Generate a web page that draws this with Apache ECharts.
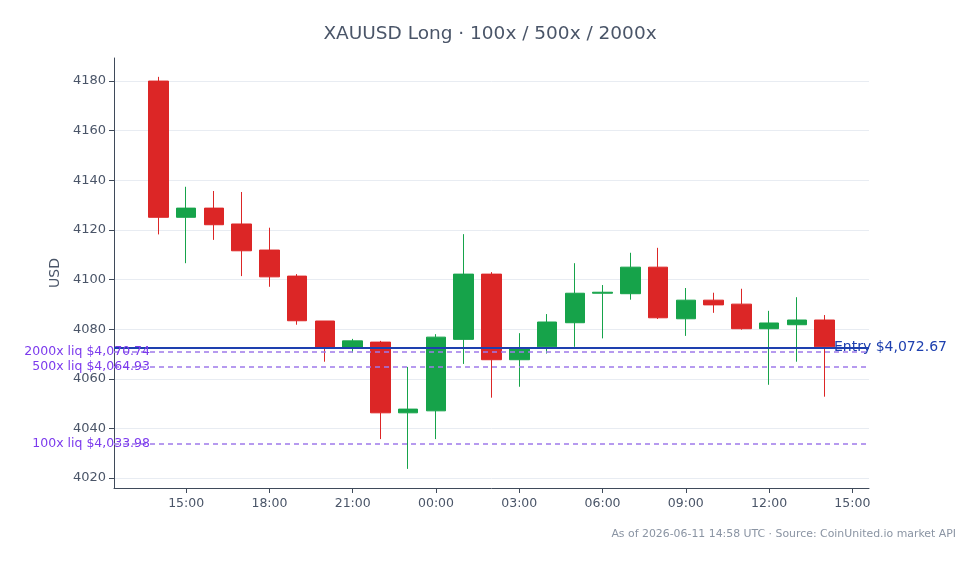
<!DOCTYPE html>
<html>
<head>
<meta charset="utf-8">
<script src="https://cdn.jsdelivr.net/npm/echarts@6/dist/echarts.min.js"></script>
<style>
  html, body { margin: 0; padding: 0; background: #fff; }
  #chart { width: 980px; height: 564px; }
</style>
</head>
<body>
<div id="chart"></div>
<script>
// hourly candles; x is hours since 2026-06-10 00:00 UTC (14 = 14:00, 38 = next day 14:00)
const hours  = [14, 15, 16, 17, 18, 19, 20, 21, 22, 23, 24, 25, 26, 27, 28, 29, 30, 31, 32, 33, 34, 35, 36, 37, 38];
const opens  = [4180.0, 4125.1, 4128.8, 4122.4, 4111.9, 4101.4, 4083.3, 4072.7, 4074.8, 4046.3, 4047.1, 4075.9, 4102.2, 4067.7, 4072.9, 4082.6, 4094.5, 4094.3, 4105.0, 4084.2, 4091.7, 4090.1, 4080.2, 4081.8, 4083.7];
const closes = [4125.1, 4128.8, 4122.1, 4111.6, 4101.1, 4083.4, 4072.7, 4075.3, 4046.3, 4047.8, 4076.8, 4102.2, 4067.7, 4072.3, 4082.9, 4094.5, 4094.9, 4105.0, 4084.6, 4091.7, 4089.8, 4080.2, 4082.5, 4083.7, 4072.9];
const lows   = [4118.2, 4106.6, 4116.0, 4101.4, 4097.1, 4081.8, 4066.9, 4070.6, 4035.7, 4023.7, 4035.7, 4066.0, 4052.4, 4056.8, 4070.2, 4072.9, 4076.3, 4091.9, 4084.1, 4077.3, 4086.6, 4079.8, 4057.6, 4066.9, 4052.8];
const highs  = [4181.7, 4137.4, 4135.7, 4135.3, 4120.9, 4102.2, 4083.3, 4076.1, 4075.3, 4064.8, 4078.0, 4118.3, 4103.0, 4078.4, 4086.1, 4106.6, 4097.8, 4110.8, 4112.8, 4096.6, 4094.7, 4096.3, 4087.4, 4092.9, 4085.7];

const entryPrice = 4072.67;
const liqNames  = ["2000x liq", "500x liq", "100x liq"];
const liqPrices = [4070.74, 4064.93, 4033.98];

const xMin = 12.4;
const xMax = 39.6;
const yMin = 4016;
const yMax = 4189.3;

const fmtUsd = (v) => "$" + v.toLocaleString("en-US", { minimumFractionDigits: 2, maximumFractionDigits: 2 });
const pad2 = (n) => String(n).padStart(2, "0");

const candles = hours.map((h, i) => [h, opens[i], closes[i], lows[i], highs[i]]);

const chart = echarts.init(document.getElementById("chart"));
chart.setOption({
  animation: false,
  backgroundColor: "#ffffff",
  title: {
    text: "XAUUSD Long · 100x / 500x / 2000x",
    left: "center",
    top: 20,
    textStyle: { color: "#4a5568", fontSize: 18.5, fontWeight: "normal", fontFamily: "DejaVu Sans" },
  },
  graphic: [{
    type: "text",
    right: 24,
    top: 529,
    style: {
      text: "As of 2026-06-11 14:58 UTC · Source: CoinUnited.io market API",
      fill: "#8a94a3",
      font: "10.9px DejaVu Sans",
    },
  }],
  grid: { left: 114, right: 111, top: 58, bottom: 76 },
  xAxis: {
    type: "value",
    min: xMin,
    max: xMax,
    splitNumber: 9,
    axisLine: { lineStyle: { color: "#3f4a5a", width: 1 } },
    axisTick: { show: true, length: 5, lineStyle: { color: "#3f4a5a" } },
    axisLabel: {
      color: "#4a5568",
      fontSize: 12.5,
      fontFamily: "DejaVu Sans",
      margin: 9,
      showMinLabel: false,
      showMaxLabel: false,
      formatter: (v) => pad2(Math.round(v) % 24) + ":00",
    },
    splitLine: { show: false },
  },
  yAxis: {
    type: "value",
    min: yMin,
    max: yMax,
    splitNumber: 9,
    name: "USD",
    nameLocation: "middle",
    nameGap: 48,
    nameTextStyle: { color: "#4a5568", fontSize: 14, fontFamily: "DejaVu Sans" },
    axisLine: { show: true, lineStyle: { color: "#3f4a5a", width: 1 } },
    axisTick: { show: true, length: 5, lineStyle: { color: "#3f4a5a" } },
    axisLabel: {
      color: "#4a5568",
      fontSize: 13,
      fontFamily: "DejaVu Sans",
      showMinLabel: false,
      showMaxLabel: false,
      formatter: (v) => String(v),
    },
    splitLine: { show: true, showMinLine: false, showMaxLine: false, lineStyle: { color: "#e8ecf2" } },
  },
  series: [{
    type: "candlestick",
    data: candles,
    barWidth: 20,
    itemStyle: {
      color: "#16a34a",
      color0: "#dc2626",
      borderColor: "#16a34a",
      borderColor0: "#dc2626",
      borderWidth: 1,
    },
    markLine: {
      silent: true,
      symbol: "none",
      data: [
        {
          yAxis: entryPrice,
          lineStyle: { color: "#1e40af", width: 2, type: "solid" },
          label: {
            show: true,
            position: "end",
            distance: -35,
            formatter: "Entry " + fmtUsd(entryPrice),
            color: "#1e40af",
            fontSize: 14,
            fontFamily: "DejaVu Sans",
          },
        },
        ...liqPrices.map((p, i) => ({
          yAxis: p,
          lineStyle: { color: "#9f7aea", width: 1.5, type: [5, 4] },
          label: {
            show: true,
            position: "start",
            distance: -36,
            formatter: liqNames[i] + " " + fmtUsd(p),
            color: "#7c3aed",
            fontSize: 12.5,
            fontFamily: "DejaVu Sans",
          },
        })),
      ],
    },
  }],
});
</script>
</body>
</html>
